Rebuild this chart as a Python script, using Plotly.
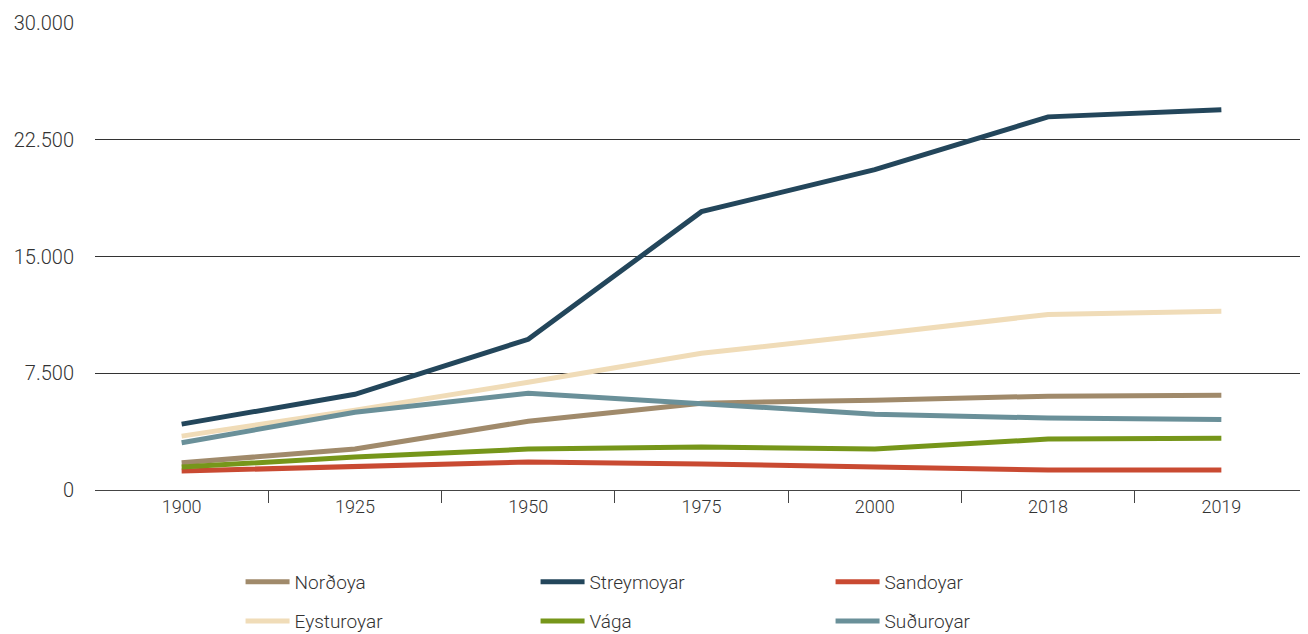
import plotly.graph_objects as go

years = ["1900", "1925", "1950", "1975", "2000", "2018", "2019"]
nordoya = [1750, 2630, 4420, 5580, 5770, 6030, 6090]
streymoyar = [4230, 6150, 9680, 17880, 20580, 23970, 24420]
sandoyar = [1220, 1540, 1800, 1670, 1470, 1280, 1280]
eysturoyar = [3460, 5130, 6920, 8780, 10000, 11280, 11480]
vaga = [1470, 2120, 2630, 2760, 2630, 3270, 3330]
suduroyar = [3030, 5000, 6220, 5580, 4870, 4620, 4530]

series = [
    ("Norðoya", nordoya, "#a08a6b", "legend"),
    ("Streymoyar", streymoyar, "#23465b", "legend"),
    ("Sandoyar", sandoyar, "#c94a32", "legend"),
    ("Eysturoyar", eysturoyar, "#f0dcb8", "legend2"),
    ("Vága", vaga, "#76961a", "legend2"),
    ("Suðuroyar", suduroyar, "#6a9099", "legend2"),
]

x = list(range(len(years)))

fig = go.Figure()
for name, vals, color, lg in series:
    fig.add_trace(go.Scatter(
        x=x, y=vals, name=name, mode="lines", legend=lg,
        line=dict(color=color, width=5),
    ))

FONT = "Roboto, sans-serif"
TXT = "#333333"

leg_common = dict(
    orientation="h",
    x=0.12, xanchor="left",
    yanchor="middle",
    entrywidth=236, entrywidthmode="pixels",
    itemwidth=44,
    font=dict(family=FONT, size=19, color=TXT, weight=300),
    bgcolor="rgba(0,0,0,0)",
)

fig.update_layout(
    width=1300, height=626,
    margin=dict(l=87, r=0, t=15, b=144, autoexpand=False),
    plot_bgcolor="white", paper_bgcolor="white",
    separators=",.",
    font=dict(family=FONT, size=17, color=TXT, weight=300),
    showlegend=True,
    legend=dict(y=-0.197, **leg_common),
    legend2=dict(y=-0.281, **leg_common),
    xaxis=dict(
        range=[-0.5, 6.5],
        tickmode="array", tickvals=x, ticktext=years,
        ticks="", showgrid=False, zeroline=False,
        showline=True, linecolor="#444444", linewidth=1,
        tickfont=dict(family=FONT, size=18, color=TXT, weight=300),
        minor=dict(tickmode="array", tickvals=[i + 0.5 for i in x[:-1]],
                   ticks="outside", ticklen=12, tickcolor="#444444", tickwidth=1,
                   showgrid=False),
    ),
    yaxis=dict(
        range=[0, 30000],
        tickmode="array", tickvals=[0, 7500, 15000, 22500, 30000],
        tickformat=",",
        showgrid=True, gridcolor="#333333", gridwidth=1,
        zeroline=False, showline=False, ticks="",
        ticklabelstandoff=20,
        tickfont=dict(family=FONT, size=20, color=TXT, weight=300),
    ),
)

fig.write_html("out.html")
